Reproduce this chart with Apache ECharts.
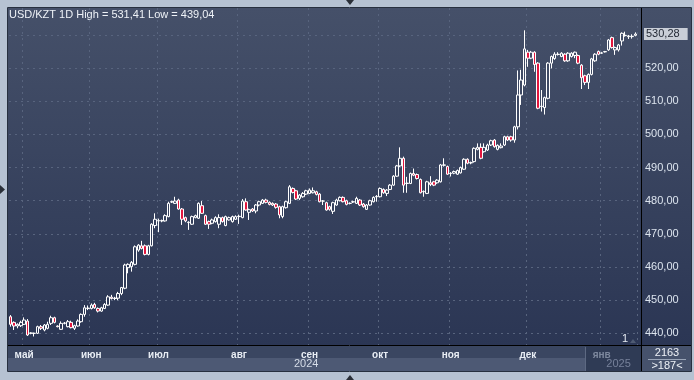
<!DOCTYPE html>
<html><head><meta charset="utf-8">
<script src="https://cdn.jsdelivr.net/npm/echarts@6/dist/echarts.min.js"></script>
<style>html,body{margin:0;padding:0;background:#b6c2d2;}#c{width:694px;height:380px;}</style>
</head><body><div id="c"></div>
<script>
// [open, close, low, high]
const candles = [
[445.0,442.7,442.0,445.5],[443.3,442.2,441.0,443.6],[442.2,442.7,441.5,443.0],[442.3,443.3,441.9,443.8],[442.7,444.0,442.5,444.8],
[443.7,439.5,439.2,444.3],[440.0,440.1,439.7,440.3],[440.0,440.0,439.04,440.2],[440.0,442.0,439.8,442.3],[442.0,441.5,441.0,442.5],
[441.0,442.5,440.6,442.8],[441.5,442.7,441.2,443.5],[443.0,444.7,442.5,445.3],[444.7,443.3,443.0,445.0],[442.2,442.0,441.8,442.4],
[441.2,443.0,441.0,443.6],[443.0,443.1,442.7,443.4],[442.0,443.5,441.8,444.0],[443.3,441.7,441.5,443.8],[441.5,442.3,441.0,442.6],
[442.2,443.7,442.0,444.2],[443.5,445.7,443.2,446.0],[445.7,447.7,445.0,448.5],[447.5,447.6,447.0,448.4],[447.5,448.5,447.2,449.0],
[448.7,447.7,447.4,449.2],[447.5,446.7,446.3,447.8],[446.7,447.7,446.5,448.0],[447.5,448.7,447.3,449.1],[448.5,451.0,448.3,451.5],
[450.9,450.5,450.2,451.6],[450.5,450.6,450.0,451.0],[450.6,452.0,450.0,452.5],[452.0,453.8,451.5,454.0],[453.6,460.6,453.3,461.0],
[459.8,460.8,458.1,461.1],[460.1,461.4,458.6,461.8],[460.8,466.1,460.5,466.5],[465.1,466.6,464.6,466.9],[466.4,465.6,465.3,467.9],
[466.4,463.8,463.5,466.8],[463.8,466.4,463.5,466.7],[466.4,472.9,466.2,473.2],[472.5,474.4,471.7,476.2],[473.9,474.0,470.5,474.6],
[473.9,474.0,473.5,474.3],[473.9,475.5,473.7,475.9],[475.2,479.2,475.0,479.7],[479.6,479.7,479.3,480.0],[479.2,479.9,479.0,481.2],
[480.2,477.5,477.3,480.6],[477.5,474.4,472.7,477.8],[474.9,473.9,473.5,475.2],[473.4,473.5,471.2,473.8],[472.9,475.2,472.7,475.5],
[474.9,475.5,474.7,475.8],[474.7,479.2,474.5,479.5],[478.5,476.2,476.0,479.9],[475.5,472.9,472.7,475.8],[473.7,472.9,471.5,474.0],
[473.2,474.2,472.9,474.6],[473.7,474.9,473.4,475.3],[472.9,474.9,471.7,475.9],[474.9,473.7,473.4,475.2],[472.5,475.2,472.3,475.5],
[474.2,474.9,474.0,475.2],[473.7,475.2,473.4,475.5],[474.4,475.2,474.2,475.6],[475.2,475.3,473.0,475.8],[474.9,479.9,474.7,480.5],
[479.7,477.2,477.0,480.7],[476.5,477.3,474.2,477.6],[477.5,476.9,476.6,477.8],[476.9,478.7,476.2,479.0],[478.7,479.7,478.3,480.0],
[479.2,480.2,479.0,480.5],[480.2,479.5,479.2,480.6],[479.5,478.9,478.6,479.8],[479.2,478.7,478.4,479.5],[479.0,478.0,477.6,479.3],
[478.2,475.7,474.7,478.5],[475.2,478.2,474.7,478.5],[477.9,479.7,477.6,480.0],[479.2,484.2,479.0,484.7],[483.7,482.5,482.2,484.0],
[483.0,480.5,480.2,483.3],[480.7,481.7,480.2,482.0],[481.2,482.2,480.9,482.6],[482.0,483.0,481.7,483.3],[482.2,483.2,482.0,483.7],
[482.4,483.0,482.2,484.0],[482.7,481.9,481.6,483.0],[482.0,479.7,479.5,482.3],[479.9,479.9,478.7,480.2],[479.4,477.2,477.0,479.7],
[478.2,477.4,477.0,478.5],[476.8,479.4,476.0,479.7],[478.7,480.2,478.5,480.6],[480.0,481.0,479.8,481.3],[481.0,479.7,479.5,481.3],
[480.0,478.9,478.6,480.3],[479.2,479.2,478.9,479.5],[479.6,479.7,479.3,480.0],[479.2,480.7,479.0,481.2],[480.2,478.7,478.4,480.5],
[479.0,478.2,477.9,479.3],[477.4,478.7,477.2,479.0],[478.7,480.0,478.5,480.3],[479.7,481.0,479.5,481.3],[481.2,481.3,479.7,481.7],
[481.2,483.7,481.0,484.0],[483.4,482.4,482.1,483.7],[482.2,483.2,481.4,483.5],[483.4,484.7,483.2,485.0],[484.7,487.4,484.5,487.7],
[487.4,490.5,487.2,490.8],[490.5,492.8,490.2,496.1],[492.8,484.7,482.4,493.3],[485.2,485.3,482.4,487.2],[485.2,488.2,485.0,488.5],
[488.2,487.7,487.4,489.7],[487.9,486.7,486.4,488.2],[486.4,482.4,482.2,486.7],[482.7,482.8,481.2,483.1],[482.2,485.7,482.0,486.0],
[485.4,484.9,484.4,487.4],[485.7,484.7,484.4,486.0],[485.4,486.2,485.1,486.5],[485.7,490.8,485.5,491.1],[490.7,490.8,490.3,492.8],
[490.3,488.0,487.8,490.6],[488.2,488.3,487.3,488.6],[488.3,488.8,488.0,489.1],[488.0,489.1,487.8,489.4],[488.4,490.0,488.2,490.3],
[489.5,492.5,489.3,492.8],[492.5,491.3,491.0,492.8],[491.4,491.5,491.0,491.8],[491.8,495.8,491.5,496.1],[495.5,496.1,495.2,497.3],
[496.1,492.8,492.5,497.3],[494.8,496.1,494.5,497.3],[495.3,496.8,495.0,497.2],[496.8,498.1,496.5,498.4],[498.3,496.3,496.0,498.6],
[495.5,496.7,495.2,497.0],[496.0,496.5,495.8,497.3],[496.8,499.3,496.5,499.6],[499.3,498.3,498.0,499.6],[499.3,498.3,497.8,499.6],
[498.3,502.3,497.5,502.6],[502.3,511.9,501.5,519.3],[511.9,516.4,508.9,519.5],[514.9,525.8,514.5,531.41],[524.8,523.0,520.4,525.5],
[523.0,524.8,522.7,525.2],[524.8,521.1,518.9,525.1],[521.5,507.9,507.6,521.8],[508.4,508.5,506.9,513.4],[508.1,511.1,506.0,511.4],
[510.9,521.5,510.6,521.8],[521.5,523.5,519.9,523.8],[522.9,524.2,522.5,524.8],[524.1,524.2,523.8,524.8],[523.5,524.5,523.3,524.8],
[524.2,522.2,521.9,524.5],[522.2,524.5,521.9,524.8],[523.5,524.5,523.2,524.8],[523.8,524.8,523.0,525.0],[523.8,521.5,521.2,524.1],
[520.9,517.1,513.7,521.2],[517.7,515.7,514.9,518.0],[515.7,518.1,513.7,518.4],[518.1,522.8,517.8,523.1],[522.2,524.2,521.9,524.5],
[525.0,524.2,523.9,525.3],[524.5,524.6,524.3,524.9],[524.9,525.0,524.7,525.2],[525.5,528.5,525.2,528.8],[529.2,526.2,525.9,529.5],
[525.5,526.2,524.0,526.5],[525.5,527.0,525.0,527.3],[528.2,530.5,526.8,530.8],[529.8,529.9,529.5,531.0],[529.5,529.7,528.8,530.0],
[529.5,529.6,528.9,530.2],[529.9,530.28,529.6,530.8]
];
const monthIdx = [4, 24, 44, 68, 89, 110, 131, 154, 176];
const monthNames = ['май','июн','июл','авг','сен','окт','ноя','дек','янв'];
const yearIdx = [88, 181];
const yearNames = ['2024', '2025'];
const symbol = 'USD/KZT';
const period = '1D';
const counter = '2163';

const fmt = v => v.toFixed(2).replace('.', ',');
const categories = candles.map((_, i) => String(i));
const hi = Math.max(...candles.map(c => c[3]));
const lo = Math.min(...candles.map(c => c[2]));
const last = candles[candles.length - 1][1];
const monthSet = new Map(monthIdx.map((v, i) => [v, monthNames[i]]));
const yearSet = new Map(yearIdx.map((v, i) => [v, yearNames[i]]));
const FONT = 'Liberation Sans, Arial, sans-serif';

const chart = echarts.init(document.getElementById('c'), null, {renderer: 'canvas'});
const bgGrad = new echarts.graphic.LinearGradient(0, 0, 0, 1, [
  {offset: 0, color: '#455069'}, {offset: 1, color: '#2b3654'}]);
chart.setOption({
  animation: false,
  backgroundColor: '#b6c2d2',
  title: {
    text: `${symbol} ${period} High = ${fmt(hi)} Low = ${fmt(lo)}`,
    left: 9, top: 9, padding: 0,
    textStyle: {color: '#eef2f7', fontSize: 11, fontWeight: 'normal', fontFamily: FONT}
  },
  grid: {left: 9, top: 8, width: 628, height: 337},
  xAxis: [{
    type: 'category', data: categories, boundaryGap: true,
    axisLine: {show: false}, axisTick: {show: false},
    axisLabel: {
      interval: (i) => monthSet.has(i),
      formatter: (v, i) => monthSet.get(Number(v)) || '',
      color: (v) => Number(v) === 176 ? '#7d889e' : '#e9eef5',
      fontSize: 10, fontWeight: 'bold', fontFamily: FONT, margin: 5
    },
    splitLine: {
      show: true, interval: (i) => monthSet.has(i),
      lineStyle: {color: '#58647e', type: [2, 4], width: 1}
    }
  }, {
    type: 'category', data: categories, boundaryGap: true, position: 'bottom', offset: 12,
    axisLine: {show: false}, axisTick: {show: false}, splitLine: {show: false},
    axisLabel: {
      interval: (i) => yearSet.has(i),
      formatter: (v) => yearSet.get(Number(v)) || '',
      color: (v) => Number(v) === 181 ? '#76819a' : '#d6dde8',
      fontSize: 11, fontFamily: FONT, margin: 1
    }
  }],
  yAxis: {
    type: 'value', position: 'right', min: 436.47, max: 538.14, splitNumber: 10, scale: true,
    axisLine: {show: false}, axisTick: {show: false},
    axisLabel: {
      formatter: (v) => (Math.abs(v / 10 - Math.round(v / 10)) < 1e-6) ? fmt(v) : '',
      color: '#dce4ee', fontSize: 11, fontFamily: FONT, margin: 8, align: 'left',
      showMinLabel: false, showMaxLabel: false
    },
    splitLine: {show: true, showMinLine: false, showMaxLine: false,
      lineStyle: {color: '#58647e', type: [2, 4], width: 1}}
  },
  series: [{
    type: 'candlestick', data: candles, barWidth: 3,
    itemStyle: {color: 'rgba(0,0,0,0)', color0: '#e3163e', borderColor: '#ffffff', borderColor0: '#ffffff', borderWidth: 1},
    markLine: {
      symbol: 'none', silent: true,
      lineStyle: {color: 'rgba(0,0,0,0)'},
      label: {position: 'end', formatter: () => fmt(last), backgroundColor: '#c9ced7',
        color: '#1e2430', fontSize: 11, fontFamily: FONT, padding: [1, 8, 0, 2], distance: 7},
      data: [{yAxis: last}]
    }
  }],
  graphic: [
    {type: 'rect', z: -10, shape: {x: 8, y: 8, width: 633, height: 337}, style: {fill: bgGrad}},
    {type: 'rect', z: -10, shape: {x: 642, y: 8, width: 49, height: 337}, style: {fill: bgGrad}},
    {type: 'rect', z: -10, shape: {x: 8, y: 346, width: 633, height: 12}, style: {fill: '#3a4661'}},
    {type: 'rect', z: -10, shape: {x: 8, y: 358, width: 633, height: 13}, style: {fill: '#4d5974'}},
    {type: 'rect', z: -9, shape: {x: 586, y: 346, width: 55, height: 25}, style: {fill: '#2f3b55'}},
    {type: 'line', z: -8, shape: {x1: 585.5, y1: 347, x2: 585.5, y2: 371}, style: {stroke: '#5d6982', lineWidth: 1}},
    {type: 'rect', z: -10, shape: {x: 642, y: 346, width: 49, height: 25}, style: {fill: '#46526c'}},
    {type: 'rect', z: 50, shape: {x: 7.5, y: 7.5, width: 684, height: 364}, style: {fill: null, stroke: '#27303f', lineWidth: 1}},
    {type: 'line', z: 50, shape: {x1: 641.5, y1: 8, x2: 641.5, y2: 371}, style: {stroke: '#000000', lineWidth: 1}},
    {type: 'line', z: 50, shape: {x1: 8, y1: 345.5, x2: 691, y2: 345.5}, style: {stroke: '#000000', lineWidth: 1}},
    {type: 'text', z: 50, style: {x: 667, y: 353, text: counter, fill: '#eef2f7', font: '11px ' + FONT, align: 'center', verticalAlign: 'middle'}},
    {type: 'line', z: 50, shape: {x1: 648, y1: 359.5, x2: 686, y2: 359.5}, style: {stroke: '#9aa5b8', lineWidth: 1}},
    {type: 'text', z: 50, style: {x: 667, y: 366, text: '>' + candles.length + '<', fill: '#eef2f7', font: '11px ' + FONT, align: 'center', verticalAlign: 'middle'}},
    {type: 'text', z: 50, style: {x: 625, y: 339, text: '1', fill: '#e6ebf2', font: '11px ' + FONT, align: 'center', verticalAlign: 'middle'}},
    {type: 'polygon', z: 50, shape: {points: [[630, 343], [636, 343], [633, 339]]}, style: {fill: '#4f5b73'}},
    {type: 'polygon', z: 50, shape: {points: [[346, 0], [354, 0], [350, 5]]}, style: {fill: '#2a2f38'}},
    {type: 'polygon', z: 50, shape: {points: [[346, 380], [354, 380], [350, 375]]}, style: {fill: '#2a2f38'}},
    {type: 'polygon', z: 50, shape: {points: [[0, 185], [0, 194], [5, 189.5]]}, style: {fill: '#2a2f38'}}
  ]
});
</script></body></html>
